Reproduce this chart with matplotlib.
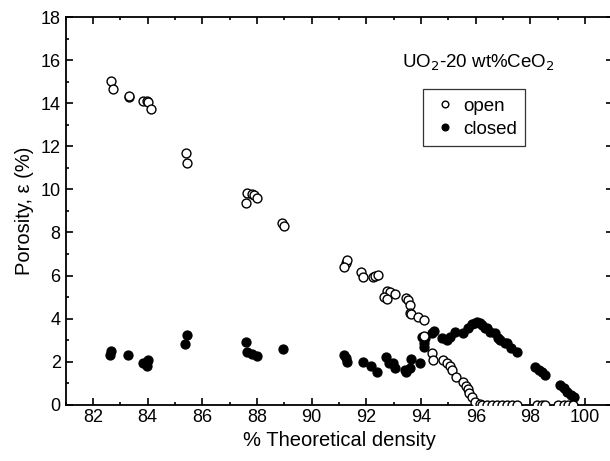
import matplotlib
matplotlib.use("Agg")
import matplotlib.pyplot as plt
from matplotlib.ticker import MultipleLocator

plt.rcParams['font.family'] = ['Liberation Sans', 'DejaVu Sans']

# open porosity
open_x = [82.65, 82.72, 83.32, 83.34, 83.85, 83.97, 84.0, 84.11,
          85.39, 85.46, 87.63, 87.59, 87.81, 87.9, 88.0, 88.91, 88.99,
          91.25, 91.28, 91.2, 91.81, 91.89, 92.24, 92.33, 92.41,
          92.77, 92.87, 93.05, 92.66, 92.77, 93.44, 93.54, 93.6, 93.6, 93.64,
          93.9, 94.09, 94.09, 94.39, 94.45, 94.82, 94.94, 95.06, 95.13,
          95.28, 95.55, 95.65, 95.7, 95.77, 95.86, 95.98, 96.14,
          96.22, 96.4, 96.59, 96.77, 96.95, 97.14, 97.32, 97.5,
          98.23, 98.42, 98.54, 99.02, 99.21, 99.39, 99.57]
open_y = [15.05, 14.66, 14.32, 14.36, 14.12, 14.13, 14.08, 13.76,
          11.71, 11.22, 9.82, 9.39, 9.79, 9.73, 9.62, 8.43, 8.30,
          6.6, 6.7, 6.41, 6.18, 5.95, 5.92, 6.0, 6.01,
          5.29, 5.25, 5.12, 5.01, 4.9, 4.97, 4.86, 4.63, 4.24, 4.19,
          4.08, 3.93, 3.2, 2.38, 2.07, 2.07, 1.95, 1.79, 1.6,
          1.26, 1.06, 0.86, 0.7, 0.52, 0.33, 0.13, 0.02,
          0.0, 0.0, 0.0, 0.0, 0.0, 0.0, 0.0, 0.0,
          0.0, 0.0, 0.0, 0.0, 0.0, 0.0, 0.0]

# closed porosity
closed_x = [82.66, 82.61, 83.3, 83.85, 83.97, 84.03, 83.97,
            85.44, 85.37, 87.59, 87.63, 87.81, 88.0, 88.97,
            91.2, 91.25, 91.29, 91.87, 92.17, 92.38, 92.72, 92.81, 92.99, 93.05,
            93.42, 93.45, 93.58, 93.63, 93.97, 94.03, 94.09, 94.11, 94.15,
            94.39, 94.48, 94.76, 94.94, 95.06, 95.25, 95.55, 95.73,
            95.86, 95.98, 96.04, 96.16, 96.22, 96.34, 96.4, 96.53, 96.71, 96.83,
            96.89, 97.08, 97.14, 97.3, 97.5,
            98.17, 98.3, 98.42, 98.54, 99.09, 99.22, 99.35, 99.48, 99.6]
closed_y = [2.5, 2.3, 2.3, 1.92, 1.99, 2.07, 1.8,
            3.23, 2.8, 2.92, 2.43, 2.35, 2.26, 2.57,
            2.3, 2.15, 1.96, 1.96, 1.8, 1.53, 2.22, 1.91, 1.91, 1.68,
            1.6, 1.53, 1.68, 2.1, 1.91, 3.15, 2.69, 2.85, 3.08,
            3.31, 3.42, 3.08, 3.0, 3.15, 3.39, 3.31, 3.54,
            3.74, 3.78, 3.85, 3.78, 3.7, 3.54, 3.54, 3.39, 3.31, 3.08,
            3.0, 2.85, 2.85, 2.65, 2.46,
            1.76, 1.6, 1.5, 1.37, 0.91, 0.75, 0.6, 0.46, 0.33]

fig = plt.figure(figsize=(6.10, 4.61), dpi=100)
ax = fig.add_axes([65.5/610, 56.5/461, 547/610, 387/461])

ax.plot(open_x, open_y, 'o', ms=6.4, mfc='white', mec='black', mew=1.0,
        label='open', zorder=3)
ax.plot(closed_x, closed_y, 'o', ms=6.4, mfc='black', mec='black', mew=1.0,
        label='closed', zorder=2)

ax.set_xlim(81, 101)
ax.set_ylim(0, 18)
ax.xaxis.set_major_locator(MultipleLocator(2))
ax.xaxis.set_minor_locator(MultipleLocator(1))
ax.yaxis.set_major_locator(MultipleLocator(2))
ax.yaxis.set_minor_locator(MultipleLocator(1))
ax.set_xticks(range(82, 101, 2))
ax.tick_params(which='both', direction='in', top=True, right=True,
               labelsize=13, width=1.2)
ax.tick_params(which='major', length=5)
ax.tick_params(which='minor', length=2.5)
for s in ax.spines.values():
    s.set_linewidth(1.3)

ax.set_xlabel('% Theoretical density', fontsize=14.5, labelpad=3)
ax.set_ylabel('Porosity, ε (%)', fontsize=14.5, labelpad=5)

ax.text(0.755, 0.882, r'UO$_2$-20 wt%CeO$_2$', transform=ax.transAxes,
        ha='center', va='center', fontsize=13.5)

leg = ax.legend(loc='upper left', bbox_to_anchor=(0.653, 0.814),
                fontsize=13.5, frameon=True, fancybox=False, edgecolor='black',
                handletextpad=0.2, handlelength=1.5, borderpad=0.45,
                labelspacing=0.3, markerscale=0.75, borderaxespad=0)
leg.get_frame().set_linewidth(0.9)

fig.savefig('out.png', dpi=100)
